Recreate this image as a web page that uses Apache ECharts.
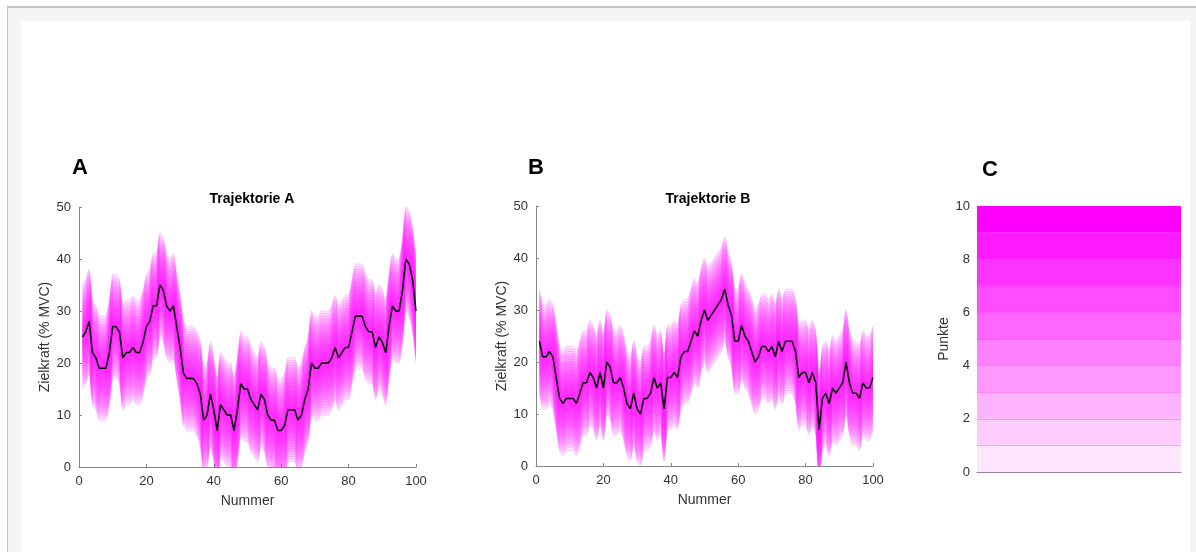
<!DOCTYPE html>
<html>
<head>
<meta charset="utf-8">
<title>Trajektorien</title>
<script src="https://cdn.jsdelivr.net/npm/echarts@6/dist/echarts.min.js"></script>
<style>
  html, body { margin: 0; padding: 0; background: #fff; }
  .frame {
    position: absolute; left: 7px; top: 6px; right: 0; bottom: 0;
    background: #f5f5f5;
    border-top: 2px solid #c2c2c2;
    border-left: 1px solid #c2c2c2;
  }
  .paper { position: absolute; left: 21px; top: 21px; width: 1169px; bottom: 0; background: #fff; }
  #chart { position: absolute; left: 0; top: 0; width: 1196px; height: 552px; }
</style>
</head>
<body>
<div class="frame"></div>
<div class="paper"></div>
<div id="chart"></div>
<script>
// Zielkraft (% MVC) je Nummer 1..100
const trajektorieA = [
  25, 26, 28, 22, 21, 19, 19, 19, 22, 27,
  27, 26, 21, 22, 22, 23, 22, 22, 24, 27,
  28, 31, 31, 35, 34, 31, 30, 31, 27, 23,
  18, 17, 17, 17, 16, 14, 9, 10, 14, 11,
  7, 12, 11, 10, 10, 7, 11, 16, 15, 15,
  13, 12, 11, 14, 13, 10, 9, 9, 7, 7,
  8, 11, 11, 11, 9, 10, 13, 15, 20, 19,
  19, 20, 20, 20, 21, 23, 21, 22, 23, 23,
  26, 29, 29, 29, 27, 26, 26, 23, 25, 24,
  22, 27, 31, 30, 30, 34, 40, 39, 36, 30
]
const trajektorieB = [
  24, 21, 21, 22, 21, 17, 13, 12, 13, 13,
  13, 12, 14, 16, 16, 18, 17, 15, 18, 15,
  20, 19, 16, 16, 17, 15, 12, 11, 14, 11,
  10, 13, 13, 14, 17, 15, 16, 11, 17, 17,
  18, 17, 21, 22, 22, 24, 26, 25, 28, 30,
  28, 29, 30, 31, 32, 34, 31, 29, 24, 24,
  27, 25, 24, 22, 20, 21, 23, 23, 22, 23,
  21, 24, 22, 24, 24, 24, 22, 17, 18, 18,
  16, 18, 16, 7, 13, 14, 12, 15, 14, 15,
  16, 20, 16, 14, 14, 13, 16, 15, 15, 17
]
// Toleranzband: Abstand der Bandlinien zur Trajektorie
const bandOffsets = [10, 9.5, 9, 8.5, 8, 7.5, 7, 6.5, 6, 5.5, 5, 4.5, 4, 3.5, 3, 2.5, 2, 1.5, 1, 0.5]
const xTicks = [0, 20, 40, 60, 80, 100]
const yTicks = [0, 10, 20, 30, 40, 50]
// Farbskala Punkte
const punkteGrenzen = [0, 1, 2, 3, 4, 5, 6, 7, 8, 9, 10]
const punkteFarben = ['#ffe6ff', '#ffccff', '#ffb3ff', '#ff99ff', '#ff80ff',
  '#ff66ff', '#ff4dff', '#ff33ff', '#ff1aff', '#ff00ff']

const FONT = 'Liberation Sans, Arial, Helvetica, sans-serif'
const AXIS = '#858585'
const LABEL = '#333333'

const chart = echarts.init(document.getElementById('chart'))

const trajXAxis = (idx) => ({
  type: 'value', gridIndex: idx,
  min: xTicks[0], max: xTicks[xTicks.length - 1], interval: xTicks[1] - xTicks[0],
  axisLine: { lineStyle: { color: AXIS, width: 1 } },
  axisTick: { inside: true, length: 3, lineStyle: { color: AXIS } },
  axisLabel: { color: LABEL, fontSize: 13, fontFamily: FONT, margin: 8 },
  splitLine: { show: false },
  name: 'Nummer', nameLocation: 'middle', nameGap: 27,
  nameTextStyle: { color: LABEL, fontSize: 14, fontFamily: FONT }
})

const trajYAxis = (idx) => ({
  type: 'value', gridIndex: idx,
  min: yTicks[0], max: yTicks[yTicks.length - 1], interval: yTicks[1] - yTicks[0],
  axisLine: { show: true, lineStyle: { color: AXIS, width: 1 } },
  axisTick: { show: true, inside: true, length: 3, lineStyle: { color: AXIS } },
  axisLabel: { color: LABEL, fontSize: 13, fontFamily: FONT, margin: 8 },
  splitLine: { show: false },
  name: 'Zielkraft (% MVC)', nameLocation: 'middle', nameGap: 25,
  nameTextStyle: { color: LABEL, fontSize: 14, fontFamily: FONT }
})

// one custom item per offset: a filled band traj±o with thin outlines
const bandSeries = (traj, idx) => ({
  type: 'custom', xAxisIndex: idx, yAxisIndex: idx,
  data: bandOffsets.map((o) => [o]),
  encode: { x: -1, y: -1 },
  clip: true, silent: true, z: 2,
  renderItem: (params, api) => {
    const o = api.value(0)
    const upper = traj.map((v, i) => api.coord([i + 1, v + o]))
    const lower = traj.map((v, i) => api.coord([i + 1, v - o]))
    const edge = { stroke: 'rgba(255,0,255,0.3)', lineWidth: 0.7, fill: null }
    return {
      type: 'group',
      children: [
        {
          type: 'polygon',
          shape: { points: upper.concat(lower.slice().reverse()) },
          style: { fill: 'rgba(255,0,255,0.085)' }
        },
        { type: 'polyline', shape: { points: upper, smooth: 0.3 }, style: edge },
        { type: 'polyline', shape: { points: lower, smooth: 0.3 }, style: edge }
      ]
    }
  }
})

const lineSeries = (traj, idx) => ({
  type: 'line', xAxisIndex: idx, yAxisIndex: idx,
  data: traj.map((v, i) => [i + 1, v]),
  symbol: 'none', silent: true, z: 10,
  lineStyle: { color: '#000', width: 1.5 }
})

const colorbarSeries = punkteFarben.map((c, i) => ({
  type: 'bar', xAxisIndex: 2, yAxisIndex: 2, stack: 'punkte',
  data: [punkteGrenzen[i + 1] - punkteGrenzen[i]],
  barWidth: '100%', silent: true,
  itemStyle: { color: c, borderWidth: 0 }
}))
// thin boundary lines between the levels
colorbarSeries[0].markLine = {
  silent: true, symbol: 'none', label: { show: false }, z: 5,
  lineStyle: { color: 'rgba(255,0,255,0.3)', width: 1, type: 'solid' },
  data: punkteGrenzen.slice(1, -1).map((v) => ({ yAxis: v }))
}

const panelLetter = (text, x, y) => ({
  text, left: x, top: y, textAlign: 'center', textVerticalAlign: 'middle',
  textStyle: { fontSize: 22, fontWeight: 'bold', color: '#000', fontFamily: FONT }
})
const panelTitle = (text, x, y) => ({
  text, left: x, top: y, textAlign: 'center', textVerticalAlign: 'middle',
  textStyle: { fontSize: 14, fontWeight: 'bold', color: '#000', fontFamily: FONT }
})

const option = {
  animation: false,
  title: [
    panelLetter('A', 75, 163),
    panelLetter('B', 531, 163),
    panelLetter('C', 985, 165),
    panelTitle('Trajektorie A', 247, 194),
    panelTitle('Trajektorie B', 703, 194)
  ],
  grid: [
    { left: 79, top: 207, width: 337, height: 260 },
    { left: 536, top: 206, width: 337, height: 260 },
    { left: 977, top: 206, width: 204, height: 266 }
  ],
  xAxis: [
    trajXAxis(0),
    trajXAxis(1),
    {
      type: 'category', gridIndex: 2, data: [''],
      axisLine: { lineStyle: { color: '#a27fa2', width: 1 } },
      axisTick: { show: false }, axisLabel: { show: false }
    }
  ],
  yAxis: [
    trajYAxis(0),
    trajYAxis(1),
    {
      type: 'value', gridIndex: 2,
      min: punkteGrenzen[0], max: punkteGrenzen[punkteGrenzen.length - 1], interval: 2,
      axisLine: { show: true, lineStyle: { color: AXIS, width: 1 } },
      axisTick: { show: false },
      axisLabel: { color: LABEL, fontSize: 13, fontFamily: FONT, margin: 7 },
      splitLine: { show: false },
      name: 'Punkte', nameLocation: 'middle', nameGap: 25,
      nameTextStyle: { color: LABEL, fontSize: 14, fontFamily: FONT }
    }
  ],
  series: [
    bandSeries(trajektorieA, 0),
    lineSeries(trajektorieA, 0),
    bandSeries(trajektorieB, 1),
    lineSeries(trajektorieB, 1),
    ...colorbarSeries
  ]
}

chart.setOption(option)
</script>
</body>
</html>
